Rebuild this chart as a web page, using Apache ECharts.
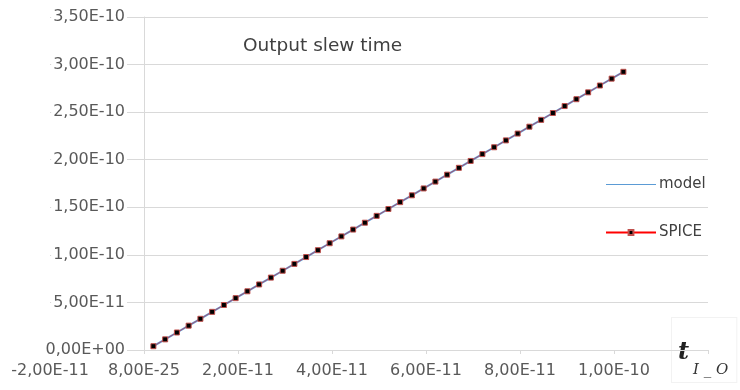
<!DOCTYPE html>
<html>
<head>
<meta charset="utf-8">
<script src="https://cdn.jsdelivr.net/npm/echarts@6/dist/echarts.min.js"></script>
<style>
  html, body { margin: 0; padding: 0; background: #fff; }
  #chart { width: 740px; height: 390px; }
</style>
</head>
<body>
<div id="chart"></div>
<script>
// t_I_O (s)
const xValues = [
  2.0e-12, 4.5e-12, 7.0e-12, 9.5e-12, 12.0e-12, 14.5e-12, 17.0e-12, 19.5e-12, 22.0e-12, 24.5e-12,
  27.0e-12, 29.5e-12, 32.0e-12, 34.5e-12, 37.0e-12, 39.5e-12, 42.0e-12, 44.5e-12, 47.0e-12, 49.5e-12,
  52.0e-12, 54.5e-12, 57.0e-12, 59.5e-12, 62.0e-12, 64.5e-12, 67.0e-12, 69.5e-12, 72.0e-12, 74.5e-12,
  77.0e-12, 79.5e-12, 82.0e-12, 84.5e-12, 87.0e-12, 89.5e-12, 92.0e-12, 94.5e-12, 97.0e-12, 99.5e-12,
  102.0e-12
]
const modelValues = [
  4.0e-12, 11.2e-12, 18.4e-12, 25.6e-12, 32.8e-12, 40.1e-12, 47.3e-12, 54.5e-12, 61.7e-12, 68.9e-12,
  76.1e-12, 83.3e-12, 90.5e-12, 97.7e-12, 104.9e-12, 112.2e-12, 119.4e-12, 126.6e-12, 133.8e-12, 141.0e-12,
  148.2e-12, 155.4e-12, 162.6e-12, 169.8e-12, 177.0e-12, 184.3e-12, 191.5e-12, 198.7e-12, 205.9e-12, 213.1e-12,
  220.3e-12, 227.5e-12, 234.7e-12, 241.9e-12, 249.1e-12, 256.4e-12, 263.6e-12, 270.8e-12, 278.0e-12, 285.2e-12,
  292.4e-12
]
const spiceValues = [
  4.0e-12, 11.2e-12, 18.4e-12, 25.6e-12, 32.8e-12, 40.1e-12, 47.3e-12, 54.5e-12, 61.7e-12, 68.9e-12,
  76.1e-12, 83.3e-12, 90.5e-12, 97.7e-12, 104.9e-12, 112.2e-12, 119.4e-12, 126.6e-12, 133.8e-12, 141.0e-12,
  148.2e-12, 155.4e-12, 162.6e-12, 169.8e-12, 177.0e-12, 184.3e-12, 191.5e-12, 198.7e-12, 205.9e-12, 213.1e-12,
  220.3e-12, 227.5e-12, 234.7e-12, 241.9e-12, 249.1e-12, 256.4e-12, 263.6e-12, 270.8e-12, 278.0e-12, 285.2e-12,
  292.4e-12
]

const xTickLabels = ['-2,00E-11', '8,00E-25', '2,00E-11', '4,00E-11', '6,00E-11', '8,00E-11', '1,00E-10', '']
const yTickLabels = ['0,00E+00', '5,00E-11', '1,00E-10', '1,50E-10', '2,00E-10', '2,50E-10', '3,00E-10', '3,50E-10']

const X_MIN = -2e-11
const X_MAX = 1.2e-10
const X_STEP = 2e-11
const Y_MAX = 3.5e-10
const Y_STEP = 5e-11

const FONT = 'DejaVu Sans'
const TEXT_COLOR = '#595959'
const GRID_COLOR = '#d9d9d9'

// grid box; the y axis sits at x = 0
const GRID_LEFT = 50
const GRID_RIGHT = 32
const PLOT_W = 740 - GRID_LEFT - GRID_RIGHT
const Y_AXIS_SHIFT = PLOT_W * (0 - X_MIN) / (X_MAX - X_MIN)

function pairs (xs, ys) {
  return xs.map((x, i) => [x, ys[i]])
}

const chart = echarts.init(document.getElementById('chart'))
chart.setOption({
  backgroundColor: '#fff',
  animation: false,
  title: {
    text: 'Output slew time',
    left: 238,
    top: 32,
    textStyle: { fontFamily: FONT, fontSize: 18.5, fontWeight: 'normal', color: '#404040' }
  },
  legend: {
    orient: 'vertical',
    left: 600,
    top: 172,
    itemWidth: 50,
    itemHeight: 6,
    itemGap: 33,
    lineStyle: { opacity: 1 },
    textStyle: { fontFamily: FONT, fontSize: 15, color: '#404040', padding: [0, 0, 0, -2] },
    data: [
      { name: 'model', icon: 'path://M0,0L0.01,0Z M0,2.4L50,2.4L50,3.6L0,3.6Z M49.99,6L50,6Z' },
      { name: 'SPICE' }
    ]
  },
  grid: { left: GRID_LEFT, right: GRID_RIGHT, top: 17, bottom: 40, containLabel: false, outerBoundsMode: 'none' },
  xAxis: {
    type: 'value',
    min: X_MIN,
    max: X_MAX,
    interval: X_STEP,
    name: '{t|t}{s|I _ O}',
    nameLocation: 'end',
    nameGap: -36,
    nameTextStyle: {
      align: 'left',
      verticalAlign: 'middle',
      backgroundColor: '#fff',
      borderColor: '#f2f2f2',
      borderWidth: 1,
      padding: [23, 8, 4, 6],
      rich: {
        t: { fontFamily: 'DejaVu Serif', fontStyle: 'italic', fontWeight: 'bold', fontSize: 24, color: '#222', lineHeight: 24, verticalAlign: 'top' },
        s: { fontFamily: 'DejaVu Serif', fontStyle: 'italic', fontSize: 15, color: '#333', lineHeight: 37, verticalAlign: 'bottom', padding: [0, 0, 0, 4] }
      }
    },
    axisLine: { onZero: true, lineStyle: { color: GRID_COLOR, width: 1 } },
    axisTick: { show: true, length: 4, lineStyle: { color: GRID_COLOR } },
    splitLine: { show: false },
    axisLabel: {
      margin: 13,
      fontFamily: FONT,
      fontSize: 16,
      color: TEXT_COLOR,
      formatter: (v) => xTickLabels[Math.round((v - X_MIN) / X_STEP)]
    }
  },
  yAxis: {
    type: 'value',
    min: 0,
    max: Y_MAX,
    interval: Y_STEP,
    offset: -Y_AXIS_SHIFT,
    axisLine: { show: true, onZero: false, lineStyle: { color: GRID_COLOR, width: 1 } },
    axisTick: { show: false },
    splitLine: { show: true, lineStyle: { color: GRID_COLOR, width: 1 } },
    axisLabel: {
      margin: 17,
      fontFamily: FONT,
      fontSize: 16,
      color: TEXT_COLOR,
      backgroundColor: '#fff',
      padding: [1, 2],
      formatter: (v) => yTickLabels[Math.round(v / Y_STEP)]
    }
  },
  series: [
    {
      name: 'model',
      type: 'line',
      z: 2,
      symbol: 'none',
      lineStyle: { color: '#5b9bd5', width: 2 },
      itemStyle: { color: '#5b9bd5' },
      data: pairs(xValues, modelValues)
    },
    {
      name: 'SPICE',
      type: 'line',
      z: 3,
      symbol: 'rect',
      symbolSize: 5,
      lineStyle: { color: '#ff0000', width: 1, opacity: 0.45 },
      itemStyle: { color: '#000', borderColor: '#c0504d', borderWidth: 1 },
      data: pairs(xValues, spiceValues)
    }
  ]
})
</script>
</body>
</html>
